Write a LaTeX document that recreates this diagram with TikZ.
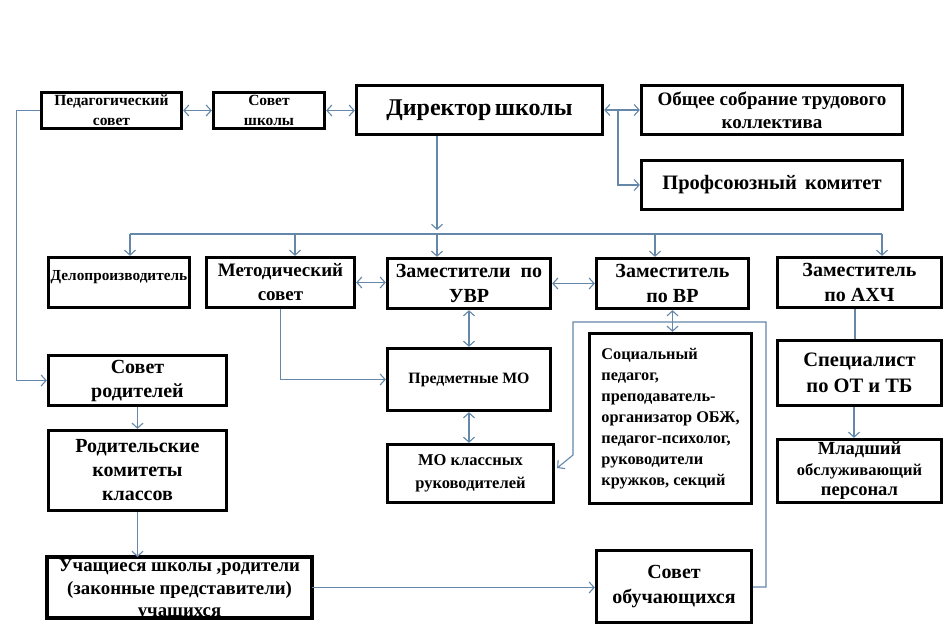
\documentclass[tikz,border=0pt]{standalone}
\usepackage{fontspec}
\setmainfont{Liberation Serif}
\usetikzlibrary{arrows.meta,calc}
\definecolor{conc}{RGB}{100,135,170}
\newcommand\fsz[2]{\fontsize{#1}{#2}\selectfont}
\begin{document}
\begin{tikzpicture}[x=1pt,y=-1pt,
  box/.style={draw=black, line width=3.3pt, fill=white, inner sep=1pt, align=center},
  fs/.style 2 args={font=\bfseries\fsz{#1}{#2}},
  con/.style={draw=conc, line width=1.1pt},
  tip/.tip={Straight Barb[length=5pt,width=11pt,line width=1.1pt]},
  arr/.style={con, -tip},
  darr/.style={con, tip-tip},
]
\useasboundingbox[fill=white] (0,0) rectangle (948,636);

% top row
\node[box, fs={15.5}{20}, minimum width=140pt, minimum height=36pt] (ped) at (111.5,110.5) {Педагогический\\совет};
\node[box, fs={15.5}{20}, minimum width=111pt, minimum height=36pt] (sovsh) at (269,110.5) {Совет\\школы};
\node[box, fs={24}{28}, minimum width=246pt, minimum height=49pt] (dir) at (479.5,110) {Директор\hspace{-0.1em} школы};
\node[box, fs={19}{23}, minimum width=261pt, minimum height=49pt] (obsh) at (772,110) {Общее собрание трудового\\коллектива};
\node[box, fs={20.5}{24}, minimum width=261pt, minimum height=49pt] (prof) at (772,185) {Профсоюзный\hspace{0.4em}комитет};

% second row
\node[box, fs={15.3}{18}, minimum width=141pt, minimum height=50pt, text height=11pt, text depth=14pt] (delo) at (119,282.5) {Делопроизводитель};
\node[box, fs={19}{24}, minimum width=148pt, minimum height=50pt] (met) at (280.5,282.5) {Методический\\совет};
\node[box, fs={20}{25}, minimum width=163pt, minimum height=50pt] (uvr) at (469,283.5) {Заместители\hspace{0.5em}по\\УВР};
\node[box, fs={20}{25}, minimum width=152pt, minimum height=50pt] (vr) at (672.5,283.5) {Заместитель\\по ВР};
\node[box, fs={20}{25}, minimum width=164pt, minimum height=50pt] (ahch) at (859.5,282.5) {Заместитель\\по АХЧ};

% third column blocks
\node[box, fs={15.8}{19}, minimum width=163pt, minimum height=62pt] (pmo) at (469,379.5) {Предметные МО};
\node[box, fs={16.5}{23}, minimum width=166pt, minimum height=58pt] (mok) at (470.5,473.5) {МО классных\\руководителей};
\node[box, fs={16.3}{21}, minimum width=162pt, minimum height=170pt, align=left] (soc) at (670.5,418.5) {Социальный\\педагог,\\преподаватель-\\организатор ОБЖ,\\педагог-психолог,\\руководители\\кружков, секций};
\node[box, fs={20.5}{26}, minimum width=164pt, minimum height=65pt] (spec) at (859.5,373) {Специалист\\по ОТ и ТБ};
\node[box, fs={18.5}{20.5}, minimum width=164pt, minimum height=63pt] (mlad) at (859.5,471) {Младший\\{\fsz{16.5}{20.5}обслуживающий}\\персонал};

% left column
\node[box, fs={20}{24}, minimum width=178pt, minimum height=50pt, text depth=4pt] (sr) at (137.5,380.5) {Совет\\родителей};
\node[box, fs={20}{24}, minimum width=178pt, minimum height=80pt] (rk) at (137.5,470.5) {Родительские\\комитеты\\классов};
\node[fill=white, outer sep=0pt, minimum width=265pt, minimum height=61pt] (uch) at (179.5,587.5) {};
\begin{scope}
  \clip ($(uch.north west)+(1.65pt,-1.65pt)$) rectangle ($(uch.south east)+(-1.65pt,1.65pt)$);
  \node[fs={18.8}{22.5}, align=center, inner sep=0pt] (uchtext) at (179.5,590) {Учащиеся школы ,родители\\(законные представители)\\учащихся};
\end{scope}
\draw[black, line width=3.3pt] (uch.north west) rectangle (uch.south east);
\node[box, fs={20}{25}, minimum width=155pt, minimum height=72pt] (so) at (674,586.5) {Совет\\обучающихся};

% connectors top
\draw[darr] (ped.east) -- (sovsh.west);
\draw[darr] (sovsh.east) -- (sovsh.east -| dir.west);
\draw[darr] (dir.east) -- (obsh.west);
\coordinate (br) at (618,110);
\draw[arr] (br) |- (prof.west);

% bus
\coordinate (busL) at (130,234);
\coordinate (busR) at (882,234);
\coordinate (busD) at (437,234);
\draw[arr] (dir.south -| busD) -- ([yshift=4pt]busD);
\draw[con] (busL) -- (busR);
\draw[arr] (busL) -- (busL |- delo.north);
\draw[arr] (295,234) -- (met.north -| 295,0);
\draw[arr] (busD) -- (busD |- uvr.north);
\draw[arr] (655,234) -- (vr.north -| 655,0);
\draw[arr] (busR) -- (busR |- ahch.north);

% middle connections
\draw[darr] (met.east) -- (met.east -| uvr.west);
\draw[darr] (uvr.east) -- (uvr.east -| vr.west);
\draw[darr] (uvr.south) -- (uvr.south |- pmo.north);
\draw[darr] (pmo.south) -- (pmo.south |- mok.north);
\draw[darr] (vr.south) -- (vr.south |- soc.north);
\draw[arr] (met.south) -- (met.south |- pmo.west) -- (pmo.west);

% left side
\draw[arr] (ped.west) -- ++(-23,0) |- (sr.west);
\draw[arr] (sr.south) -- (rk.north);
\draw[arr] (rk.south) -- (rk.south |- uch.north);
\draw[arr] (uch.east) -- (uch.east -| so.west);

% loop from Совет обучающихся to МО классных
\coordinate (lpA) at (766,587);
\coordinate (lpB) at (766,322);
\coordinate (lpC) at (573,322);
\coordinate (lpD) at (573,455);
\draw[arr] (so.east |- lpA) -- (lpA) -- (lpB) -- (lpC) -- (lpD) -- ([xshift=2pt,yshift=5.5pt]mok.east);

% right column
\draw[con] (ahch.south -| 855,0) -- (spec.north -| 855,0);
\draw[arr] (spec.south -| 854,0) -- (mlad.north -| 854,0);
\end{tikzpicture}
\end{document}
